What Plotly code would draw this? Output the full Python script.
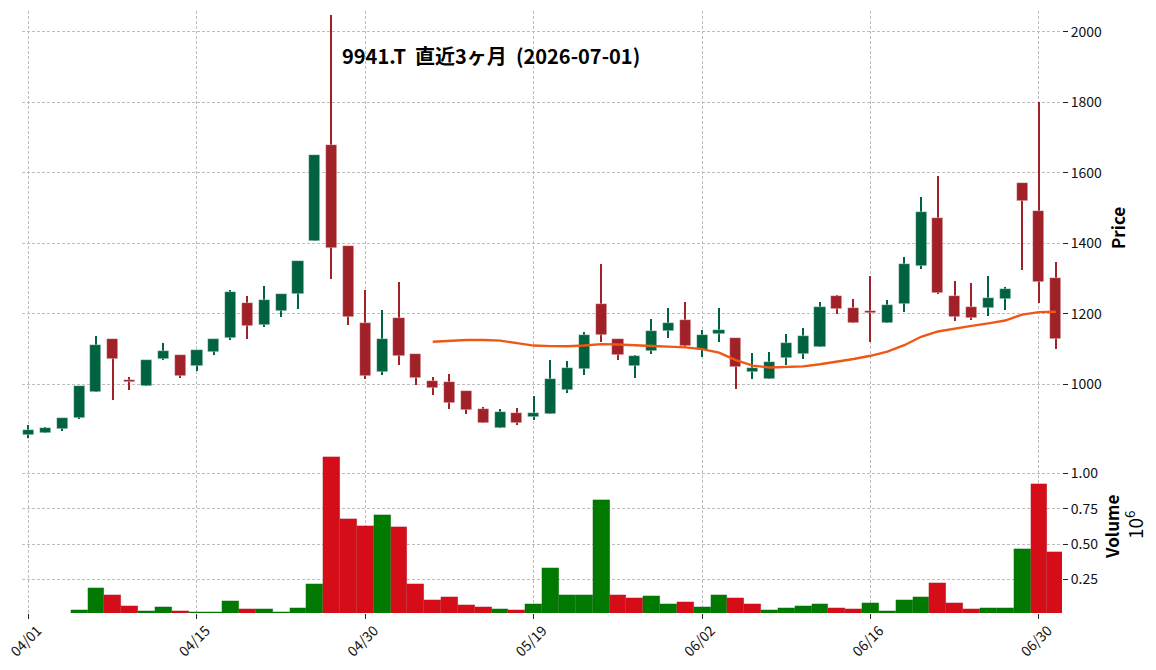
import plotly.graph_objects as go

# ---- data ----
dates = ["04/01","04/02","04/03","04/06","04/07","04/08","04/09","04/10","04/13","04/14",
         "04/15","04/16","04/17","04/20","04/21","04/22","04/23","04/24","04/27","04/28",
         "04/30","05/01","05/07","05/08","05/11","05/12","05/13","05/14","05/15","05/18",
         "05/19","05/20","05/21","05/22","05/25","05/26","05/27","05/28","05/29","06/01",
         "06/02","06/03","06/04","06/05","06/08","06/09","06/10","06/11","06/12","06/15",
         "06/16","06/17","06/18","06/19","06/22","06/23","06/24","06/25","06/26","06/29",
         "06/30","07/01"]
opens = [856, 862, 873, 904, 978, 1130, 1013, 995, 1072, 1082,
         1053, 1093, 1131, 1230, 1169, 1209, 1257, 1407, 1678, 1392,
         1174, 1036, 1187, 1086, 1010, 1007, 981, 930, 877, 919,
         906, 917, 985, 1044, 1228, 1129, 1053, 1096, 1150, 1183,
         1098, 1144, 1132, 1036, 1016, 1076, 1086, 1107, 1251, 1217,
         1209, 1175, 1229, 1337, 1472, 1251, 1220, 1218, 1243, 1572,
         1492, 1302]
highs = [886, 878, 904, 994, 1136, 1130, 1021, 1068, 1118, 1082,
         1097, 1128, 1269, 1250, 1279, 1256, 1350, 1650, 2048, 1392,
         1269, 1210, 1289, 1086, 1021, 1028, 981, 936, 929, 932,
         967, 1069, 1066, 1149, 1341, 1129, 1084, 1185, 1216, 1233,
         1154, 1218, 1132, 1088, 1091, 1142, 1159, 1233, 1254, 1242,
         1308, 1239, 1361, 1531, 1591, 1293, 1287, 1307, 1277, 1572,
         1800, 1347]
lows = [849, 862, 868, 903, 978, 955, 985, 995, 1070, 1019,
        1039, 1082, 1127, 1128, 1163, 1190, 1215, 1407, 1300, 1167,
        1014, 1027, 1054, 998, 969, 929, 915, 891, 877, 886,
        899, 915, 975, 1027, 1120, 1068, 1017, 1085, 1131, 1102,
        1077, 1120, 987, 1014, 1016, 1054, 1071, 1107, 1200, 1175,
        1120, 1175, 1205, 1327, 1255, 1179, 1182, 1193, 1210, 1324,
        1232, 1099]
closes = [870, 875, 904, 994, 1113, 1072, 1007, 1068, 1094, 1024,
          1097, 1128, 1262, 1166, 1239, 1256, 1350, 1650, 1387, 1192,
          1025, 1129, 1081, 1019, 991, 948, 927, 891, 922, 891,
          919, 1015, 1046, 1140, 1141, 1082, 1080, 1152, 1174, 1110,
          1139, 1155, 1048, 1046, 1064, 1118, 1137, 1220, 1215, 1175,
          1201, 1226, 1342, 1490, 1260, 1192, 1188, 1245, 1271, 1519,
          1289, 1130]
volumes = [0, 0, 0, 33000, 189000, 139000, 61000, 26000, 54000, 26000,
           24000, 24000, 97000, 40000, 40000, 19000, 47000, 217000, 1118000, 677000,
           627000, 705000, 620000, 217000, 104000, 125000, 68000, 54000, 40000, 33000,
           75000, 330000, 139000, 139000, 811000, 139000, 118000, 132000, 75000, 90000,
           54000, 139000, 118000, 75000, 33000, 47000, 61000, 75000, 47000, 40000,
           83000, 26000, 104000, 125000, 224000, 83000, 40000, 47000, 47000, 465000,
           925000, 443000]
ma25_start = 24
ma25 = [1121, 1124.5, 1126, 1126, 1124, 1117, 1110, 1108.5, 1108, 1110,
        1114, 1113, 1112, 1109, 1107, 1105, 1100, 1090, 1069, 1053,
        1048, 1050, 1051, 1057, 1063.5, 1072, 1081, 1093, 1111, 1135,
        1150, 1159, 1166, 1173, 1181, 1198, 1205, 1206]
price_ticks = [1000, 1200, 1400, 1600, 1800, 2000]
vol_ticks = [250000, 500000, 750000, 1000000]
vol_tick_text = ["0.25", "0.50", "0.75", "1.00"]
tick_idx = [0, 10, 20, 30, 40, 50, 60]
title_text = "9941.T  直近3ヶ月  (2026-07-01)"

# ---- styles ----
UP, DOWN = "#006340", "#A02128"
VUP, VDOWN = "#007a00", "#d50d18"
MA_COLOR = "#ef5714"
GRID = "#bdbdbd"
FONT = "Noto Sans CJK JP"

W, H = 1156, 670
ML, MR, MT, MB = 22, 94, 11, 57
PW, PH = W - ML - MR, H - MT - MB
price_top_px, price_bot_px = 11, 439
vol_top_px, vol_bot_px = 440, 613


def px2x(px):
    return (px - ML) / PW


def px2y(py):
    return 1 - (py - MT) / PH


n = len(dates)
idx = list(range(n))
ccol = [UP if c >= o else DOWN for o, c in zip(opens, closes)]
vcol = [VUP] + [VUP if closes[i] >= closes[i - 1] else VDOWN for i in range(1, n)]

fig = go.Figure()
# wicks
fig.add_trace(go.Bar(x=idx, base=lows, y=[h - l for h, l in zip(highs, lows)],
                     width=0.085, marker=dict(color=ccol, line=dict(width=0)),
                     xaxis="x", yaxis="y", showlegend=False, hoverinfo="skip"))
# bodies
fig.add_trace(go.Bar(x=idx, base=[min(o, c) for o, c in zip(opens, closes)],
                     y=[max(abs(c - o), 1.5) for o, c in zip(opens, closes)],
                     width=0.66, marker=dict(color=ccol, line=dict(width=0.6, color="rgba(255,255,255,0.6)")),
                     xaxis="x", yaxis="y", showlegend=False))
# moving average
fig.add_trace(go.Scatter(x=idx[ma25_start:], y=ma25, mode="lines",
                         line=dict(color=MA_COLOR, width=2.4),
                         xaxis="x", yaxis="y", showlegend=False))
# volume
fig.add_trace(go.Bar(x=idx, y=volumes, width=1.0,
                     marker=dict(color=vcol, line=dict(width=0.4, color="rgba(60,60,60,0.25)")),
                     xaxis="x2", yaxis="y2", showlegend=False))

xr = [-0.39, 61.37]
common_x = dict(range=xr, showgrid=True, gridcolor=GRID, gridwidth=0.8, griddash="3px,2px",
                zeroline=False, showline=False, tickvals=tick_idx, automargin=False)
price_dom = [px2y(price_bot_px), px2y(price_top_px)]
vol_dom = [px2y(vol_bot_px), px2y(vol_top_px)]

fig.update_layout(
    width=W, height=H, margin=dict(l=ML, r=MR, t=MT, b=MB, autoexpand=False),
    paper_bgcolor="white", plot_bgcolor="white",
    barmode="overlay", bargap=0,
    font=dict(family=FONT, size=14, color="#111111"),
    xaxis=dict(**common_x, anchor="y", showticklabels=False, ticks="", matches="x2"),
    xaxis2=dict(**common_x, anchor="y2", ticktext=[dates[i] for i in tick_idx],
                ticks="outside", ticklen=5, tickcolor="#222222", tickangle=-45,
                ticklabeloverflow="allow", ticklabelshift=9, ticklabelstandoff=-2,
                tickfont=dict(size=14, family=FONT, color="#111111")),
    yaxis=dict(domain=price_dom, range=[845, 2059], side="right", anchor="x", automargin=False,
               tickvals=price_ticks, ticks="outside", ticklen=5, tickwidth=1.3, tickcolor="#222222",
               showgrid=True, gridcolor=GRID, gridwidth=0.8, griddash="3px,2px",
               zeroline=False, showline=False, tickfont=dict(size=14, family=FONT)),
    yaxis2=dict(domain=vol_dom, range=[14000, 1236000], side="right", anchor="x2", automargin=False,
                tickvals=vol_ticks, ticktext=vol_tick_text, ticks="outside", ticklen=5,
                tickwidth=1.3, tickcolor="#222222",
                showgrid=True, gridcolor=GRID, gridwidth=0.8, griddash="3px,2px",
                zeroline=False, showline=False, tickfont=dict(size=14, family=FONT)),
    annotations=[
        dict(text=f"<b>{title_text}</b>", x=px2x(491), y=px2y(55), xref="paper", yref="paper",
             xanchor="center", yanchor="middle", showarrow=False,
             font=dict(size=20, family=FONT, color="#000000")),
        dict(text="<b>Price</b>", x=px2x(1118), y=px2y(228), xref="paper", yref="paper",
             xanchor="center", yanchor="middle", showarrow=False, textangle=-90,
             font=dict(size=17, family=FONT, color="#000000")),
        dict(text="<b>Volume</b>", x=px2x(1111), y=px2y(527), xref="paper", yref="paper",
             xanchor="center", yanchor="middle", showarrow=False, textangle=-90,
             font=dict(size=17, family=FONT, color="#000000")),
        dict(text="10<sup>6</sup>", x=px2x(1134), y=px2y(525), xref="paper", yref="paper",
             xanchor="center", yanchor="middle", showarrow=False, textangle=-90,
             font=dict(size=19, family=FONT, color="#000000")),
    ],
)

fig.write_html("out.html")
